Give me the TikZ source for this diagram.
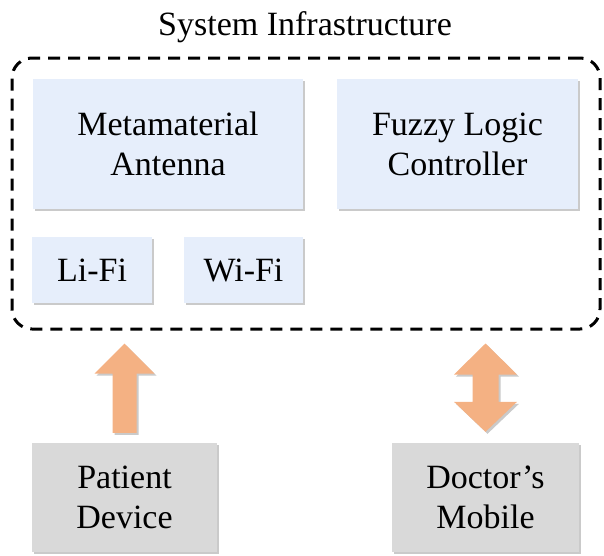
\documentclass[tikz,border=0pt]{standalone}
\usepackage{fontspec}
\setmainfont{Liberation Serif}
\usetikzlibrary{shadows,calc}

\definecolor{boxblue}{HTML}{E6EEFB}
\definecolor{boxgray}{HTML}{D9D9D9}
\definecolor{arrowfill}{HTML}{F4B183}

\tikzset{
  label text/.style={font=\fontsize{34}{40}\selectfont, align=center, text=black},
  softshadow/.style={drop shadow={shadow xshift=2pt, shadow yshift=-2pt, opacity=0.35, fill=black!60}},
  module/.style={label text, fill=boxblue, inner sep=0pt, softshadow},
  device/.style={label text, fill=boxgray, inner sep=0pt, softshadow},
  container/.style={draw=black, line width=3pt, dash pattern=on 12pt off 8pt,
    rounded corners=20pt, inner sep=0pt},
  fatarrow/.style={fill=arrowfill, softshadow},
}

\begin{document}
\begin{tikzpicture}[x=1pt, y=-1pt]
  \useasboundingbox (0,0) rectangle (604,555);

  % title and dashed frame of the infrastructure
  \node[label text, anchor=base] (title) at (305,35) {System Infrastructure};
  \node[container, minimum width=588pt, minimum height=271pt] (sys) at (306,193.5) {};

  % modules inside the frame
  \node[module, minimum width=270pt, minimum height=130pt] (meta) at (168,144) {Metamaterial\\Antenna};
  \node[module, minimum width=241pt, minimum height=130pt] (fuzzy) at (457.5,144) {Fuzzy Logic\\Controller};
  \node[module, minimum width=120pt, minimum height=66pt] (lifi) at (92,270) {Li-Fi};
  \node[module, minimum width=119pt, minimum height=66pt] (wifi) at (243.5,270) {Wi-Fi};

  % end devices
  \node[device, minimum width=185pt, minimum height=109pt] (patient) at (124.5,497.5) {Patient\\Device};
  \node[device, minimum width=187pt, minimum height=109pt] (doctor) at (485.5,497.5) {Doctor’s\\Mobile};

  % one-way link: patient device -> infrastructure
  \fill[fatarrow] let \p1=(patient.north), \p2=(sys.south) in
    (\x1-12pt,\y1+10pt) -- (\x1-12pt,\y2-43pt) -- (\x1-30pt,\y2-43pt) --
    (\x1,\y2-13pt) -- (\x1+30pt,\y2-43pt) -- (\x1+12pt,\y2-43pt) --
    (\x1+12pt,\y1+10pt) -- cycle;

  % two-way link: doctor's mobile <-> infrastructure
  \fill[fatarrow] let \p1=(doctor.north), \p2=(sys.south) in
    (\x1,\y2-13pt) -- (\x1+31.5pt,\y2-44pt) -- (\x1+13pt,\y2-44pt) --
    (\x1+13pt,\y1+41pt) -- (\x1+31.5pt,\y1+41pt) -- (\x1,\y1+11pt) --
    (\x1-31.5pt,\y1+41pt) -- (\x1-13pt,\y1+41pt) -- (\x1-13pt,\y2-44pt) --
    (\x1-31.5pt,\y2-44pt) -- cycle;
\end{tikzpicture}
\end{document}
